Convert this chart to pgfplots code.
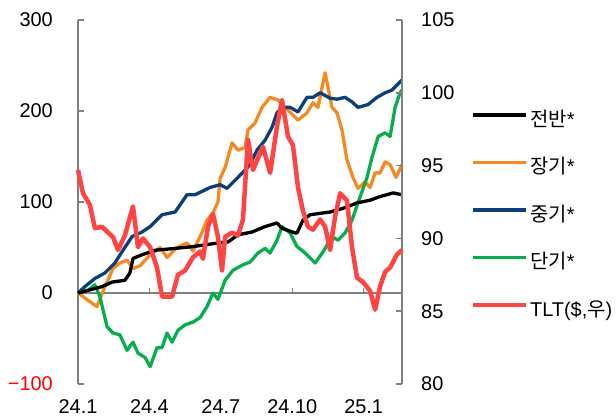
\documentclass[border=0pt]{standalone}
\usepackage{fontspec}
\setmainfont{Liberation Sans}
\newfontfamily\kr{Noto Sans CJK KR}
\usepackage{pgfplots}
\pgfplotsset{compat=1.18}
\definecolor{axgray}{HTML}{808080}
\definecolor{cOrange}{HTML}{F58A22}
\definecolor{cBlue}{HTML}{0E3E78}
\definecolor{cGreen}{HTML}{08AD4E}
\definecolor{cRed}{HTML}{FF4444}
\definecolor{labRed}{HTML}{FF0000}

\begin{document}
\begin{tikzpicture}
\useasboundingbox (-78bp,-35bp) rectangle (538bp,384bp);
\begin{axis}[
  at={(0,0)}, anchor=south west,
  scale only axis, width=324bp, height=364bp,
  xmin=0, xmax=13.61, ymin=-100, ymax=300,
  clip=false,
  axis y line*=left, axis x line*=bottom,
  x axis line style={draw=none},
  y axis line style={draw=axgray, line width=2bp, -},
  xtick={0,3,6,9,12},
  xticklabels={24.1,24.4,24.7,24.10,25.1},
  xtick style={draw=none},
  ytick={-100,0,100,200,300},
  yticklabels={{\color{labRed}−100},0,100,200,300},
  ytick style={draw=axgray, line width=1.5bp},
  tick align=inside, major tick length=6bp,
  tick label style={font=\fontsize{20}{24}\selectfont},
  xticklabel style={inner sep=0pt, text height=14bp, text depth=0pt, yshift=-15bp},
  yticklabel style={inner sep=0pt, xshift=-25bp},
]
\draw[axgray, line width=2bp] (axis cs:0,0) -- (axis cs:13.61,0);
\draw[axgray, line width=1.5bp] (axis cs:3,0) -- (axis cs:3,6);
\draw[axgray, line width=1.5bp] (axis cs:6,0) -- (axis cs:6,6);
\draw[axgray, line width=1.5bp] (axis cs:9,0) -- (axis cs:9,6);
\draw[axgray, line width=1.5bp] (axis cs:12,0) -- (axis cs:12,6);

% 장기
\addplot[cOrange, line width=3.3bp, line join=round] coordinates {
(0,0)(0.42,-8)(0.80,-15)(1.05,2)(1.22,12)(1.47,27)(1.76,33)(2.06,36)(2.31,27)(2.61,30)
(3.03,42)(3.45,50)(3.74,39)(4.16,50)(4.58,55)(4.83,46)(5.13,62)(5.42,80)(5.67,88)(5.88,100)
(5.97,126)(6.18,138)(6.47,165)(6.72,157)(7.02,160)(7.14,179)(7.44,187)(7.73,204)(8.07,215)
(8.40,212)(8.82,201)(9.24,190)(9.62,198)(9.87,209)(10.08,204)(10.38,242)(10.67,204)(10.88,198)
(11.09,179)(11.30,146)(11.55,127)(11.76,115)(12.06,122)(12.27,116)(12.48,132)(12.69,132)
(12.90,144)(13.11,141)(13.36,127)(13.61,141)
};
% 중기
\addplot[cBlue, line width=3.3bp, line join=round] coordinates {
(0,0)(0.29,7)(0.71,16)(1.13,22)(1.55,33)(1.89,47)(2.27,62)(2.69,67)(3.03,73)(3.53,86)
(4.08,89)(4.58,108)(4.92,108)(5.55,116)(5.97,119)(6.26,115)(6.72,127)(7.23,141)(7.52,157)
(7.86,168)(8.15,182)(8.36,198)(8.57,204)(8.91,204)(9.24,199)(9.62,215)(9.87,215)(10.17,220)
(10.59,214)(10.88,213)(11.22,215)(11.51,210)(11.76,204)(12.18,207)(12.56,215)(12.90,220)
(13.19,223)(13.61,234)
};
% 단기
\addplot[cGreen, line width=3.3bp, line join=round] coordinates {
(0,0)(0.42,3)(0.71,9)(0.92,-4)(1.22,-37)(1.47,-44)(1.76,-46)(2.06,-63)(2.31,-54)(2.52,-66)
(2.82,-71)(3.03,-81)(3.32,-60)(3.53,-60)(3.74,-44)(3.95,-54)(4.20,-41)(4.50,-35)(4.83,-32)
(5.13,-27)(5.42,-15)(5.67,0)(5.88,-7)(6.18,14)(6.51,25)(6.93,31)(7.23,34)(7.56,44)(7.86,49)
(8.07,44)(8.36,58)(8.57,73)(8.91,66)(9.20,51)(9.54,44)(9.96,33)(10.29,45)(10.67,62)(10.92,58)
(11.22,66)(11.51,80)(11.76,99)(12.14,127)(12.35,149)(12.61,172)(12.90,176)(13.11,172)
(13.32,204)(13.53,220)(13.61,223)
};
% 전반
\addplot[black, line width=3.3bp, line join=round] coordinates {
(0,0)(1.01,7)(1.43,12)(1.97,14)(2.18,22)(2.31,38)(2.69,42)(3.24,47)(4.08,49)(4.83,51)
(5.88,55)(6.30,56)(6.72,64)(7.31,67)(7.86,73)(8.36,77)(8.57,71)(9.12,66)(9.20,66)(9.45,80)
(9.75,86)(10.59,89)(11.13,93)(11.72,99)(12.27,102)(12.69,106)(13.24,110)(13.61,108)
};
\end{axis}

\begin{axis}[
  at={(0,0)}, anchor=south west,
  scale only axis, width=324bp, height=364bp,
  xmin=0, xmax=13.61, ymin=80, ymax=105,
  clip=false,
  axis y line*=right, axis x line=none,
  y axis line style={draw=axgray, line width=2bp, -},
  ytick={80,85,90,95,100,105},
  yticklabels={80,85,90,95,100,105},
  ytick style={draw=axgray, line width=1.5bp},
  tick align=inside, major tick length=6bp,
  tick label style={font=\fontsize{20}{24}\selectfont},
  yticklabel style={inner sep=0pt, xshift=19bp},
  legend style={at={(1.202,0.753)}, anchor=north west, draw=none, fill=none,
    font=\fontsize{20}{24}\selectfont, row sep=29.5bp, column sep=2bp,
    nodes={inner sep=0pt, text height=14bp, text depth=4bp}},
  legend cell align=left,
  legend image code/.code={\draw[#1] (0bp,6bp) -- (53bp,6bp);},
]
\addlegendimage{black, line width=3.3bp}
\addlegendentry{{\kr 전반}*}
\addlegendimage{cOrange, line width=3.3bp}
\addlegendentry{{\kr 장기}*}
\addlegendimage{cBlue, line width=3.3bp}
\addlegendentry{{\kr 중기}*}
\addlegendimage{cGreen, line width=3.3bp}
\addlegendentry{{\kr 단기}*}
% TLT (우축)
\addplot[cRed, line width=4.5bp, line join=round] coordinates {
(0,94.7)(0.21,93.1)(0.50,92.3)(0.71,90.7)(1.01,90.8)(1.26,90.4)(1.47,90.1)(1.68,89.2)(1.97,90.2)
(2.31,92.2)(2.52,89.4)(2.73,90.0)(3.03,89.4)(3.32,88.0)(3.53,86.0)(3.95,86.0)(4.20,87.5)
(4.50,87.8)(4.83,88.7)(5.13,89.1)(5.25,88.6)(5.46,90.8)(5.67,91.7)(5.88,90.1)(6.05,87.8)
(6.18,90.1)(6.47,90.4)(6.72,90.2)(6.93,91.3)(7.14,96.8)(7.35,94.7)(7.77,96.3)(8.07,94.5)
(8.36,97.7)(8.57,99.5)(8.82,97.0)(9.03,96.4)(9.24,93.5)(9.45,91.9)(9.66,90.8)(9.87,90.6)
(10.17,91.3)(10.38,90.8)(10.59,89.2)(10.80,91.5)(11.01,93.1)(11.30,92.6)(11.51,89.4)
(11.72,87.3)(11.97,87.0)(12.27,86.4)(12.48,85.1)(12.69,86.7)(12.90,87.7)(13.11,88.0)
(13.40,88.9)(13.61,89.2)
};
\addlegendentry{TLT(\$,{\kr 우})}
\end{axis}
\end{tikzpicture}
\end{document}
